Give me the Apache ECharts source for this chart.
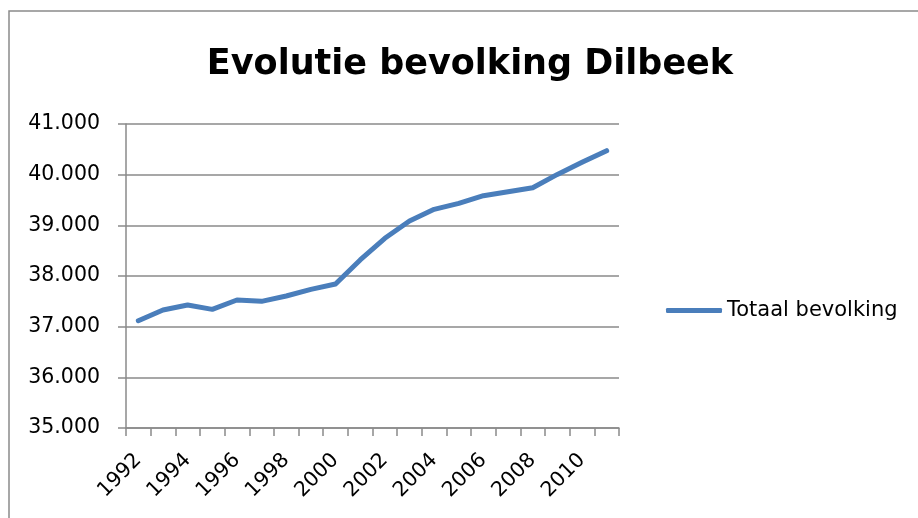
<!DOCTYPE html>
<html>
<head>
<meta charset="utf-8">
<script src="https://cdn.jsdelivr.net/npm/echarts@6/dist/echarts.min.js"></script>
<style>
    html, body { margin: 0; padding: 0; background: #fff; }
    #chart { width: 918px; height: 518px; }
</style>
</head>
<body>
<div id="chart"></div>
<script>
// jaartallen
const years = ['1992', '1993', '1994', '1995', '1996', '1997', '1998', '1999', '2000', '2001',
               '2002', '2003', '2004', '2005', '2006', '2007', '2008', '2009', '2010', '2011']
// totaal bevolking
const totaal = [37118, 37329, 37427, 37342, 37526, 37500, 37605, 37737, 37842, 38316,
                38744, 39085, 39316, 39434, 39585, 39664, 39743, 40005, 40245, 40473]

const fontName = '"DejaVu Sans", sans-serif'

let myChart = echarts.init(document.getElementById('chart'))

let option = {
    backgroundColor: '#fff',
    animation: false,
    graphic: [{
        type: 'rect',
        shape: { x: 9, y: 11, width: 1000, height: 1000 },
        style: { fill: 'none', stroke: '#8a8a8a', lineWidth: 1.5 }
    }],
    title: {
        text: 'Evolutie bevolking Dilbeek',
        left: 470,
        top: 47,
        textAlign: 'center',
        padding: 0,
        textStyle: {
            fontFamily: fontName,
            fontWeight: 'bold',
            fontSize: 35,
            color: '#000'
        }
    },
    legend: {
        left: 661,
        top: 295,
        itemWidth: 56,
        itemHeight: 5,
        data: [{
            name: 'Totaal bevolking',
            icon: 'roundRect',
            itemStyle: { color: '#4A7EBB' }
        }],
        textStyle: {
            fontFamily: fontName,
            fontSize: 21,
            color: '#000'
        }
    },
    grid: {
        left: 126,
        right: 299,
        top: 124,
        bottom: 90,
        containLabel: false
    },
    xAxis: {
        type: 'category',
        data: years,
        boundaryGap: true,
        axisLine: { lineStyle: { color: '#8a8a8a', width: 1.5 } },
        axisTick: { show: true, interval: 0, length: 8, lineStyle: { color: '#8a8a8a', width: 1.5 } },
        axisLabel: {
            interval: 1,
            rotate: 45,
            margin: 29,
            fontFamily: fontName,
            fontSize: 20.5,
            color: '#000'
        },
        splitLine: { show: false }
    },
    yAxis: {
        type: 'value',
        min: 35000,
        max: 41000,
        interval: 1000,
        axisLine: { show: true, lineStyle: { color: '#8a8a8a', width: 1.5 } },
        axisTick: { show: true, length: 8, lineStyle: { color: '#8a8a8a', width: 1.5 } },
        axisLabel: {
            margin: 26,
            fontFamily: fontName,
            fontSize: 20.5,
            color: '#000',
            formatter: v => Math.floor(v / 1000) + '.' + String(v % 1000).padStart(3, '0')
        },
        splitLine: { lineStyle: { color: '#8a8a8a', width: 1.5 } }
    },
    series: [{
        name: 'Totaal bevolking',
        type: 'line',
        data: totaal,
        symbol: 'none',
        lineStyle: { color: '#4A7EBB', width: 5, cap: 'round', join: 'round' },
        itemStyle: { color: '#4A7EBB' }
    }]
}

myChart.setOption(option)
</script>
</body>
</html>
